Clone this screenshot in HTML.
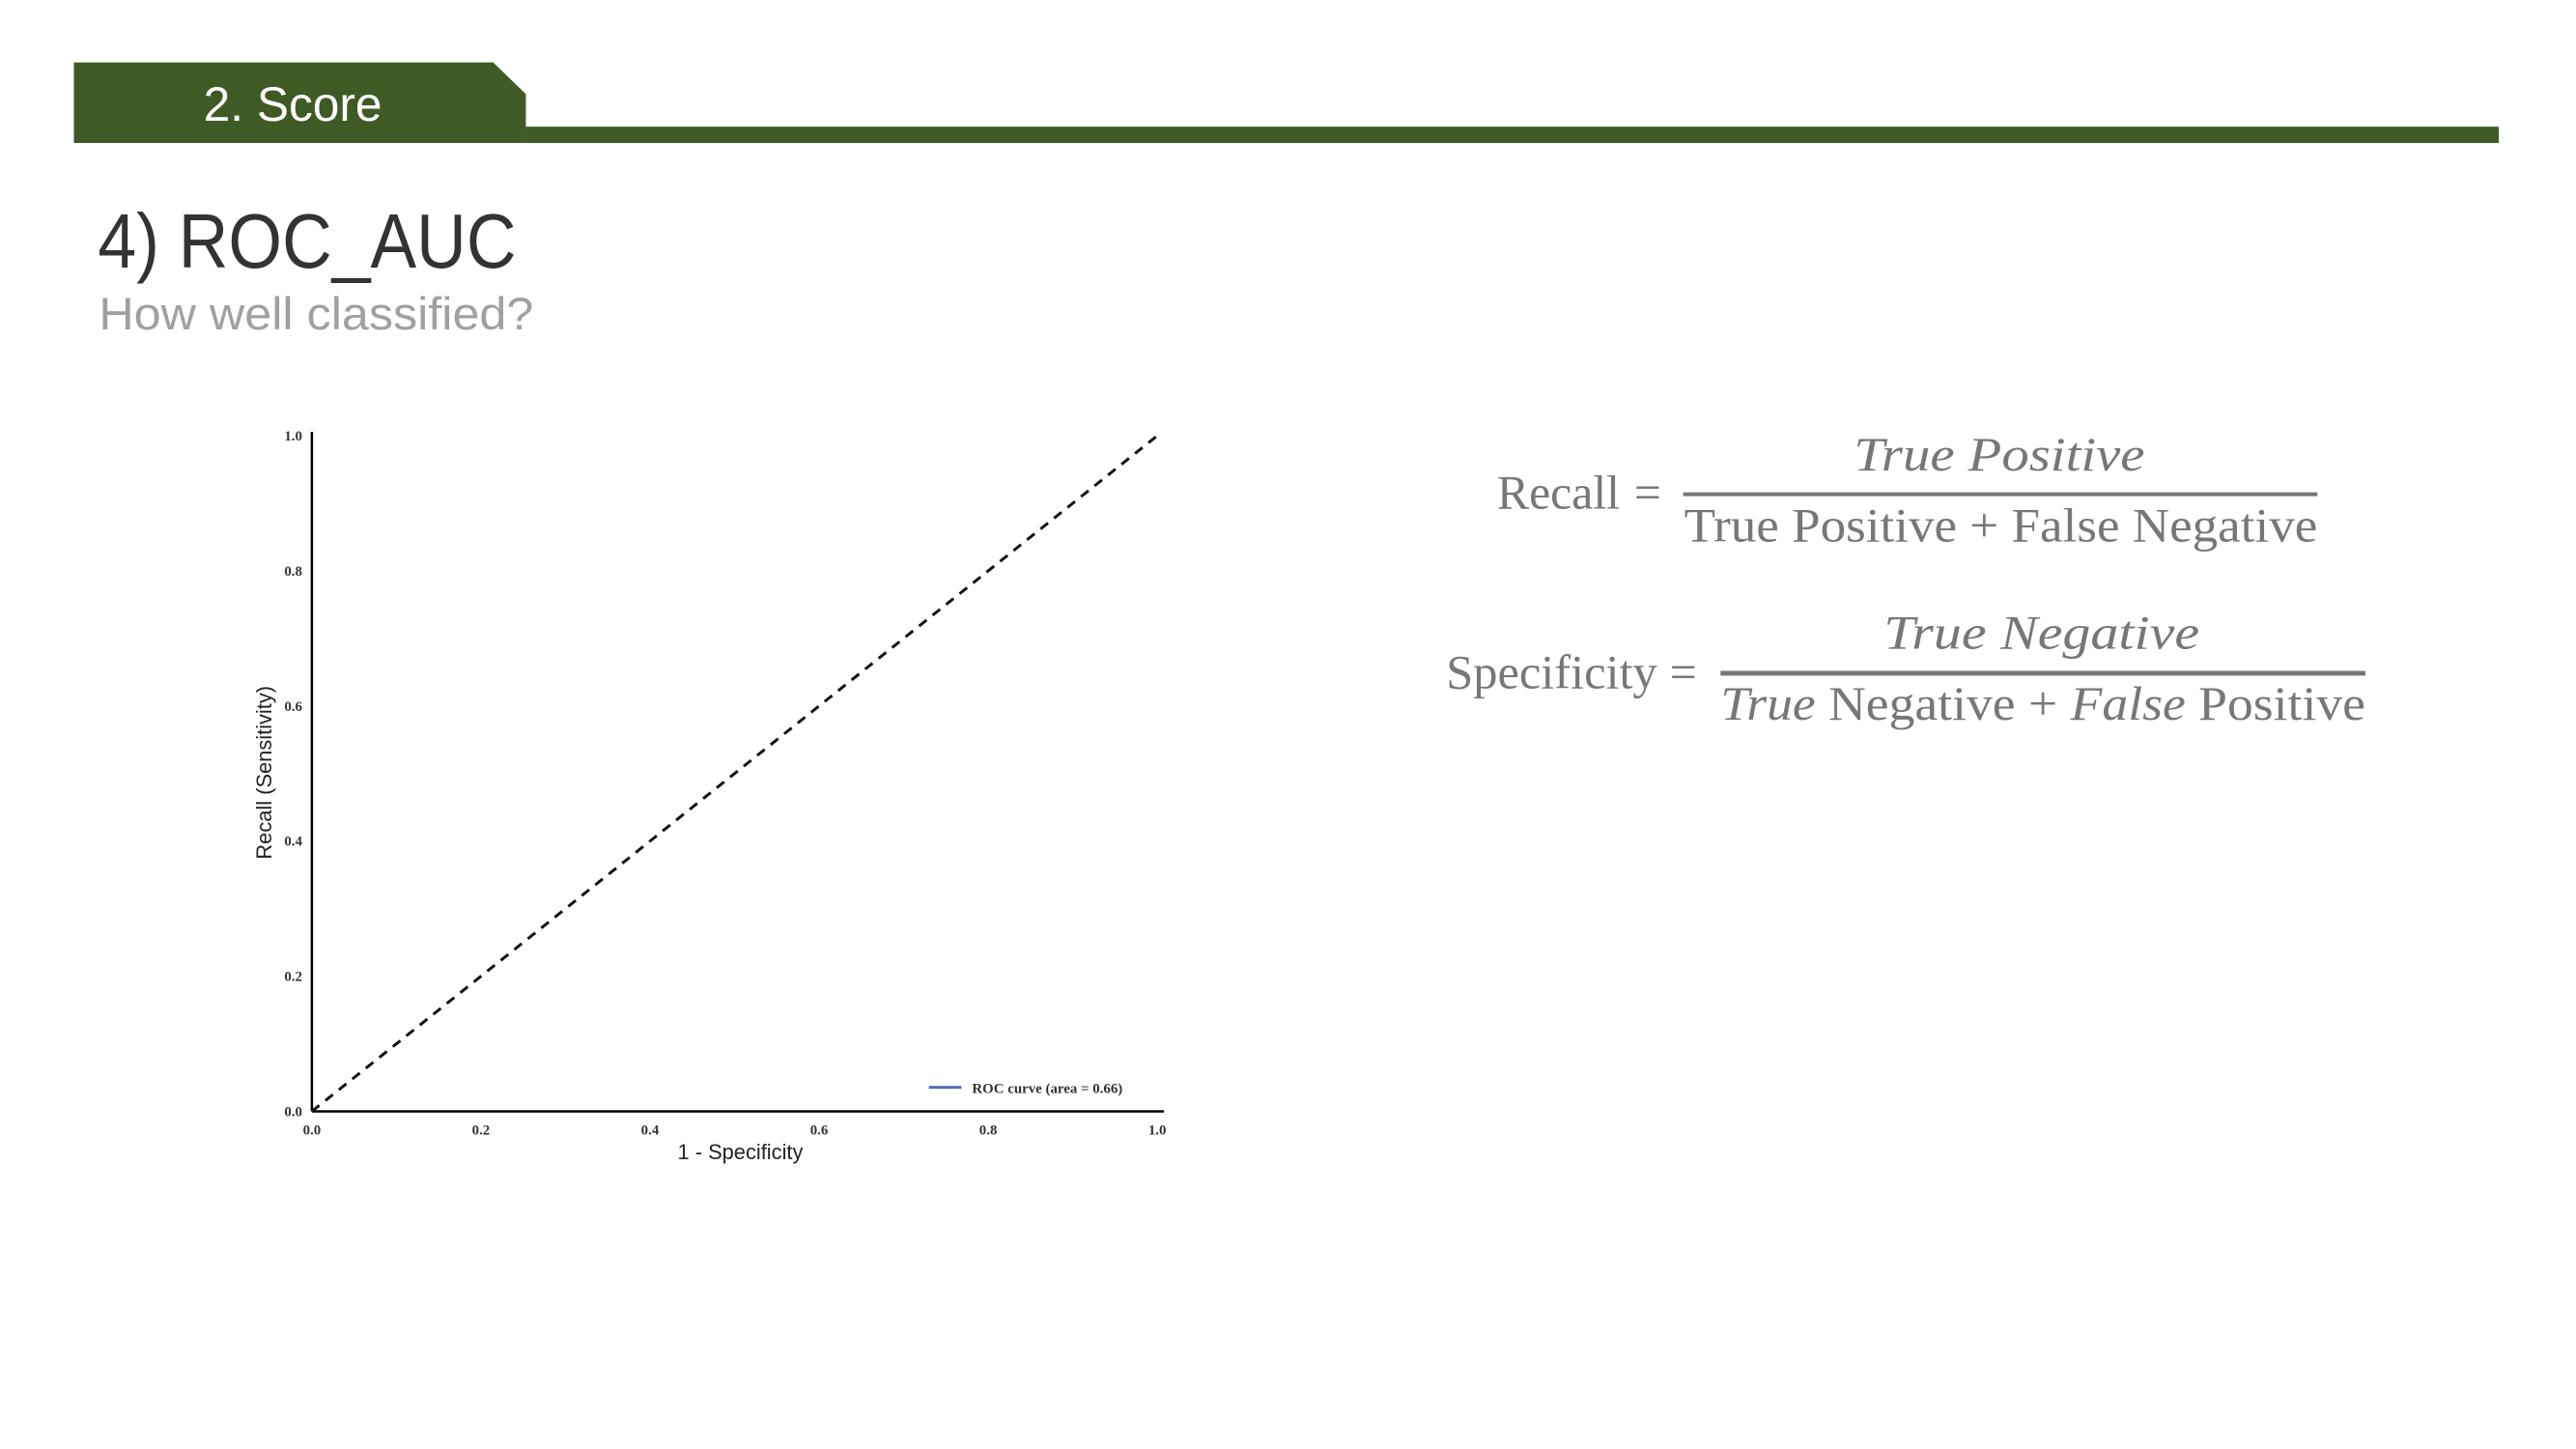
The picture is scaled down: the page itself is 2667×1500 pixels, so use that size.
<!DOCTYPE html>
<html><head><meta charset="utf-8"><style>
html,body{margin:0;padding:0;background:#fff;width:2667px;height:1500px;overflow:hidden}
</style></head><body>
<svg id="page" width="2667" height="1500" viewBox="0 0 2667 1500" xmlns="http://www.w3.org/2000/svg">
<g transform="scale(0.9935)">
<g>
<polygon points="77,65 514,65 548,98 548,149 77,149" fill="#3e5b25"/>
<rect x="548" y="132" width="2056" height="17" fill="#3e5b25"/>
<text x="212" y="126" font-family="Liberation Sans, sans-serif" font-size="50" fill="#fff">2. Score</text>
</g>
<text x="102" y="279" font-family="Liberation Sans, sans-serif" font-size="80" fill="#333" textLength="436" lengthAdjust="spacingAndGlyphs">4) ROC_AUC</text>
<text x="103" y="343" font-family="Liberation Sans, sans-serif" font-size="48" fill="#a0a0a0" textLength="453" lengthAdjust="spacingAndGlyphs">How well classified?</text>

<g id="chart"></g>

<g font-family="Liberation Serif, serif" fill="#777" font-size="50">
<text x="1560" y="530" textLength="128" lengthAdjust="spacingAndGlyphs">Recall</text>
<text x="1703" y="530">=</text>
<rect x="1754" y="513" width="661" height="4" fill="#777"/>
<text x="1932" y="490" font-style="italic" textLength="303" lengthAdjust="spacingAndGlyphs">True Positive</text>
<text x="1755" y="564" textLength="660" lengthAdjust="spacingAndGlyphs">True Positive  + False Negative</text>
</g>
<g font-family="Liberation Serif, serif" fill="#777" font-size="50">
<text x="1507" y="717" textLength="220" lengthAdjust="spacingAndGlyphs">Specificity</text>
<text x="1740" y="717">=</text>
<rect x="1793" y="699" width="672" height="5" fill="#777"/>
<text x="1963" y="676" font-style="italic" textLength="329" lengthAdjust="spacingAndGlyphs">True Negative</text>
<text x="1793" y="750" textLength="672" lengthAdjust="spacingAndGlyphs"><tspan font-style="italic">True</tspan> Negative + <tspan font-style="italic">False</tspan> Positive</text>
</g>
</g>
</svg>
<script>
const xTicks = [0.0, 0.2, 0.4, 0.6, 0.8, 1.0];
const yTicks = [0.0, 0.2, 0.4, 0.6, 0.8, 1.0];
const diagX = [0, 1];
const diagY = [0, 1];
const legendLabel = "ROC curve (area = 0.66)";

const NS = "http://www.w3.org/2000/svg";
const X0 = 325, X1 = 1206, Y0 = 1158, Y1 = 454;
function sx(v){ return X0 + v * (X1 - X0); }
function sy(v){ return Y0 - v * (Y0 - Y1); }
const chart = document.getElementById('chart');
function mk(tag, attrs){ const e = document.createElementNS(NS, tag); for (const k in attrs) e.setAttribute(k, attrs[k]); chart.appendChild(e); return e; }

let ya = mk('line', {x1:X0, y1:sy(1)-4, x2:X0, y2:Y0, stroke:'#000', 'stroke-width':2.5});


let xa = mk('line', {x1:X0, y1:Y0, x2:1213, y2:Y0, stroke:'#000', 'stroke-width':2.5});



xTicks.forEach(v => {
  const t = mk('text', {x:sx(v), y:Y0+24, 'text-anchor':'middle', 'font-family':'Liberation Serif, serif', 'font-weight':'bold', 'font-size':15, fill:'#333'});
  t.textContent = v.toFixed(1);
  
  
});
yTicks.forEach(v => {
  const t = mk('text', {x:X0-10, y:sy(v)+5, 'text-anchor':'end', 'font-family':'Liberation Serif, serif', 'font-weight':'bold', 'font-size':15, fill:'#333'});
  t.textContent = v.toFixed(1);
  
  
});

const diag = mk('line', {x1:sx(diagX[0]), y1:sy(diagY[0]), x2:sx(diagX[1]), y2:sy(diagY[1]), stroke:'#111', 'stroke-width':3, 'stroke-dasharray':'10,8'});



const xt = mk('text', {x:(X0+X1)/2+6, y:1208, 'text-anchor':'middle', 'font-family':'Liberation Sans, sans-serif', 'font-size':22, fill:'#222'});
xt.textContent = '1 - Specificity';


const yt = mk('text', {x:0, y:0, transform:'translate(283,805) rotate(-90)', 'text-anchor':'middle', 'font-family':'Liberation Sans, sans-serif', 'font-size':22, fill:'#222'});
yt.textContent = 'Recall (Sensitivity)';



const ll = mk('line', {x1:968, y1:1133, x2:1002, y2:1133, stroke:'#4c72b0', 'stroke-width':3});


const lt = mk('text', {x:1013, y:1139, 'font-family':'Liberation Serif, serif', 'font-weight':'bold', 'font-size':15, fill:'#333'});
lt.textContent = legendLabel;


</script>
</body></html>
